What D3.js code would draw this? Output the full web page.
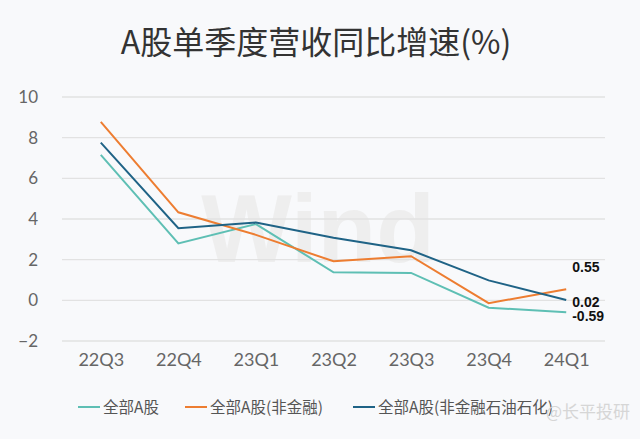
<!DOCTYPE html>
<html>
<head>
<meta charset="utf-8">
<script src="https://cdn.jsdelivr.net/npm/d3@7"></script>
<style>
  body { margin: 0; background: #f8f9fb; }
  svg { display: block; font-family: "Noto Sans CJK SC", "Noto Sans", sans-serif; }
</style>
</head>
<body>
<div id="chart"></div>
<script>
const quarters = ["22Q3", "22Q4", "23Q1", "23Q2", "23Q3", "23Q4", "24Q1"];
const allA = [7.15, 2.8, 3.75, 1.38, 1.35, -0.36, -0.59];
const nonFin = [8.78, 4.33, 3.22, 1.92, 2.17, -0.14, 0.55];
const nonFinPetro = [7.76, 3.55, 3.83, 3.08, 2.46, 0.98, 0.02];
const seriesNames = ["全部A股", "全部A股(非金融)", "全部A股(非金融石油石化)"];
const yTicks = [-2, 0, 2, 4, 6, 8, 10];

const colors = ["#5ebfb4", "#ed7d31", "#1f6386"];
const series = [allA, nonFin, nonFinPetro];

const width = 640, height = 439;
const margin = {top: 97, right: 35, bottom: 98, left: 62};

const svg = d3.select("#chart").append("svg")
    .attr("width", width)
    .attr("height", height);

svg.append("rect")
    .attr("width", width)
    .attr("height", height)
    .attr("fill", "#f8f9fb");

// title
svg.append("text")
    .attr("x", 316)
    .attr("y", 54)
    .attr("text-anchor", "middle")
    .attr("font-size", "32px")
    .attr("fill", "#333")
    .text("A股单季度营收同比增速(%)");

const x = d3.scalePoint()
    .domain(quarters)
    .range([margin.left, width - margin.right])
    .padding(0.5);

const y = d3.scaleLinear()
    .domain([-2, 10])
    .range([height - margin.bottom, margin.top]);

// watermark
svg.append("text")
    .attr("x", 318)
    .attr("y", 262)
    .attr("text-anchor", "middle")
    .attr("font-size", "96px")
    .attr("font-weight", "bold")
    .attr("font-family", "'Liberation Sans', Arial, sans-serif")
    .attr("fill", "#eeeeee")
    .text("Wind");

// grid
svg.append("g")
    .selectAll("line")
    .data(yTicks)
    .enter().append("line")
    .attr("x1", margin.left)
    .attr("x2", width - margin.right)
    .attr("y1", d => y(d))
    .attr("y2", d => y(d))
    .attr("stroke", "#e2e2e2")
    .attr("stroke-width", 1.3);

// y axis
const yAxis = svg.append("g")
    .attr("transform", `translate(${margin.left},0)`)
    .call(d3.axisLeft(y).tickValues(yTicks).tickSize(0).tickPadding(24));
yAxis.select(".domain").remove();
yAxis.selectAll("text")
    .attr("font-size", "17px")
    .attr("fill", "#666")
    .attr("font-family", "Lato, 'Open Sans', sans-serif");

// x axis
const xAxis = svg.append("g")
    .attr("transform", `translate(0,${y(-2)})`)
    .call(d3.axisBottom(x).tickSize(0).tickPadding(12));
xAxis.select(".domain").remove();
xAxis.selectAll("text")
    .attr("font-size", "18px")
    .attr("fill", "#666")
    .attr("font-family", "Lato, 'Open Sans', sans-serif");

// lines
const line = d3.line()
    .x((d, i) => x(quarters[i]))
    .y(d => y(d));

series.forEach((s, k) => {
    svg.append("path")
        .datum(s)
        .attr("fill", "none")
        .attr("stroke", colors[k])
        .attr("stroke-width", 2)
        .attr("d", line);
});

// end labels
const endLabels = [
    {value: nonFin[6], dy: -17},
    {value: nonFinPetro[6], dy: 7},
    {value: allA[6], dy: 9}
];
endLabels.forEach(l => {
    svg.append("text")
        .attr("x", x(quarters[6]) + 6)
        .attr("y", y(l.value) + l.dy)
        .attr("font-size", "14px")
        .attr("font-weight", "bold")
        .attr("font-family", "'Liberation Sans', Arial, sans-serif")
        .attr("fill", "#111")
        .text(l.value.toFixed(2));
});

// legend
const legendX = [78, 185, 353];
const legend = svg.append("g")
    .attr("transform", "translate(0,407)");
seriesNames.forEach((name, k) => {
    const g = legend.append("g")
        .attr("transform", `translate(${legendX[k]},0)`);
    g.append("line")
        .attr("x1", 0)
        .attr("x2", 22)
        .attr("stroke", colors[k])
        .attr("stroke-width", 2);
    g.append("text")
        .attr("x", 25)
        .attr("dy", "0.36em")
        .attr("font-size", "15.5px")
        .attr("fill", "#555")
        .text(name);
});

// source mark
svg.append("text")
    .attr("x", 630)
    .attr("y", 418)
    .attr("text-anchor", "end")
    .attr("font-size", "17px")
    .attr("fill", "#d6d6d6")
    .text("@长平投研");
</script>
</body>
</html>
